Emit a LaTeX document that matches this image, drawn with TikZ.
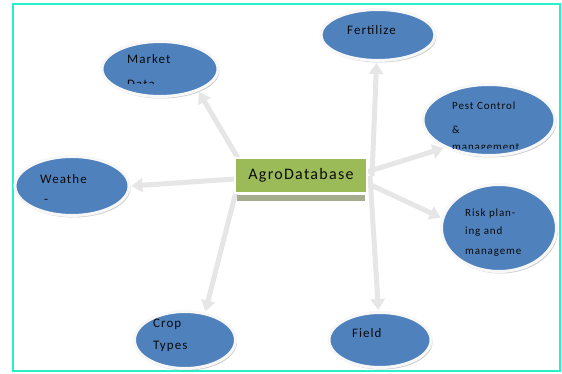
\documentclass[tikz,border=0pt]{standalone}
\usepackage{fontspec}
\newfontfamily\labfont[LetterSpace=8]{Carlito}
\usetikzlibrary{arrows.meta,shadows,backgrounds,shapes.geometric}
\definecolor{ellblue}{RGB}{79,129,189}
\definecolor{dbgreen}{RGB}{155,187,89}
\definecolor{dbshadow}{RGB}{165,173,140}
\definecolor{framecyan}{RGB}{40,240,200}
\definecolor{arrgray}{RGB}{230,230,230}
\definecolor{txt}{RGB}{10,10,10}
\begin{document}
\begin{tikzpicture}[x=1pt,y=-1pt,
  topic/.style={ellipse, fill=ellblue, draw=white!94!gray, line width=3pt, inner sep=0pt,
    drop shadow={shadow xshift=1.5pt, shadow yshift=-2pt, opacity=0.4}},
  lab/.style={anchor=base west, inner sep=0pt, text=txt, font=\labfont\fontsize{13}{13}\selectfont},
  labs/.style={lab, font=\labfont\fontsize{11}{11}\selectfont},
  arr/.style={draw=arrgray, line width=5pt, -{Triangle[width=14pt,length=11pt]}, shorten >=1pt},
  dbbox/.style={draw=white, line width=1.5pt, fill=dbgreen, minimum width=132pt, minimum height=35pt,
    inner sep=0pt, text=txt, font=\labfont\fontsize{16}{16}\selectfont}]
\useasboundingbox (0,0) rectangle (562,374);

% central box
\fill[dbshadow] (237,195) rectangle (365,201);
\node[dbbox] (db) at (301,175.5) {AgroDatabase};

% topic ellipses
\node[topic, minimum width=116pt, minimum height=55pt] (market) at (160,69) {};
\node[topic, minimum width=114pt, minimum height=51pt] (fert) at (378,35) {};
\node[topic, minimum width=132pt, minimum height=71pt] (pest) at (489,120) {};
\node[topic, minimum width=115pt, minimum height=87pt] (risk) at (499,228) {};
\node[topic, minimum width=114pt, minimum height=59pt] (weather) at (72,186) {};
\node[topic, minimum width=101pt, minimum height=57pt] (crop) at (185,340) {};
\node[topic, minimum width=102pt, minimum height=55pt] (field) at (380,340) {};

% labels
\node[lab] (tmarket) at (127,64) {Market};
\begin{scope}
  \clip (100,40) rectangle (220,84);
  \node[lab] (tmarket2) at (127,89) {Data};
\end{scope}
\node[lab] (tfert) at (347,35) {Fertilize};
\node[labs] (tpest1) at (452,110) {Pest Control};
\node[labs] (tpest2) at (452,134) {\&};
\begin{scope}
  \clip (440,140) rectangle (560,149);
  \node[labs] (tpest3) at (452,151) {management};
\end{scope}
\node[labs] (trisk1) at (465,216) {Risk plan-};
\node[labs] (trisk2) at (465,234) {ing and};
\node[labs] (trisk3) at (465,254) {manageme};
\node[lab] (tweather1) at (40,184) {Weathe};
\node[lab] (tweather2) at (44,204) {-};
\node[lab] (tcrop1) at (153,327) {Crop};
\node[lab] (tcrop2) at (153,349) {Types};
\node[lab] (tfield) at (352,337) {Field};

% arrow start points (behind the central box)
\coordinate (s1) at (245,170);
\coordinate (s2) at (372,176);
\coordinate (s3) at (360,174);
\coordinate (s4) at (360,180);
\coordinate (s5) at (250,178);
\coordinate (s6) at (240,176);
\coordinate (s7) at (370,176);

\begin{scope}[on background layer]
  \draw[framecyan, line width=2pt] (13,4) rectangle (560,371);
  \draw[arr] (s1) -- (market.-30);
  \draw[arr] (s2) -- (fert.-93);
  \draw[arr] (s3) -- (pest.212);
  \draw[arr] (s4) -- (risk.170);
  \draw[arr] (s5) -- (weather.0);
  \draw[arr] (s6) -- (crop.54);
  \draw[arr] (s7) -- (field.93);
\end{scope}
\end{tikzpicture}
\end{document}
